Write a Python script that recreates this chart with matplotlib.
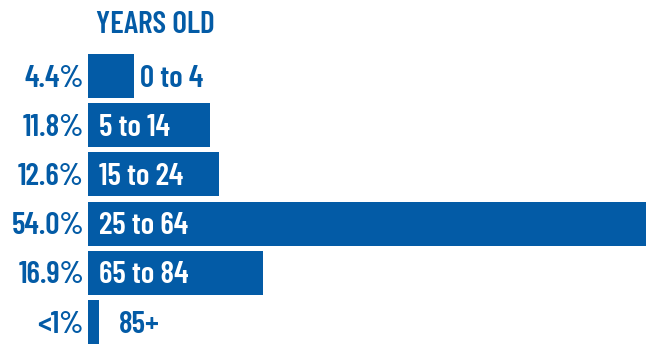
import matplotlib
matplotlib.use("Agg")
import matplotlib.pyplot as plt

# Population share by age group
age_groups = ["0 to 4", "5 to 14", "15 to 24", "25 to 64", "65 to 84", "85+"]
shares = [4.4, 11.8, 12.6, 54.0, 16.9, 0.99]
share_labels = ["4.4%", "11.8%", "12.6%", "54.0%", "16.9%", "<1%"]
title = "YEARS OLD"

BLUE = "#035BA6"
FONT = ["Barlow Condensed", "DejaVu Sans"]
FS = 22.5
WEIGHT = 600

fig = plt.figure(figsize=(6.47, 3.45), dpi=100)
ax = fig.add_axes([0, 0, 1, 1])
ax.set_xlim(-8.577, 54.13)
ax.set_ylim(5.467, -1.545)
ax.axis("off")

rows = range(len(age_groups))
ax.barh(list(rows), shares, height=0.894, color=BLUE, left=0)

px = 0.72  # points per pixel at 100 dpi
base_drop = -10.5 * px

for i, (val, grp, lab) in enumerate(zip(shares, age_groups, share_labels)):
    # percentage to the left of the bar
    ax.annotate(lab, xy=(0, i), xytext=(-4.5 * px, base_drop),
                textcoords="offset points", ha="right", va="baseline",
                color=BLUE, fontsize=FS, fontweight=WEIGHT, family=FONT)
    # age group: inside wide bars, beside narrow ones
    if val > 8:
        ax.annotate(grp, xy=(0, i), xytext=(11 * px, base_drop),
                    textcoords="offset points", ha="left", va="baseline",
                    color="white", fontsize=FS, fontweight=WEIGHT, family=FONT)
    else:
        gap = 6 if val > 2 else 20
        ax.annotate(grp, xy=(val, i), xytext=(gap * px, base_drop),
                    textcoords="offset points", ha="left", va="baseline",
                    color=BLUE, fontsize=FS, fontweight=WEIGHT, family=FONT)

fig.text(155.5 / 647, 1 - 33 / 345, title, ha="center", va="baseline",
         color=BLUE, fontsize=FS, fontweight=WEIGHT, family=FONT)

fig.savefig("out.png", dpi=100, facecolor="white")
